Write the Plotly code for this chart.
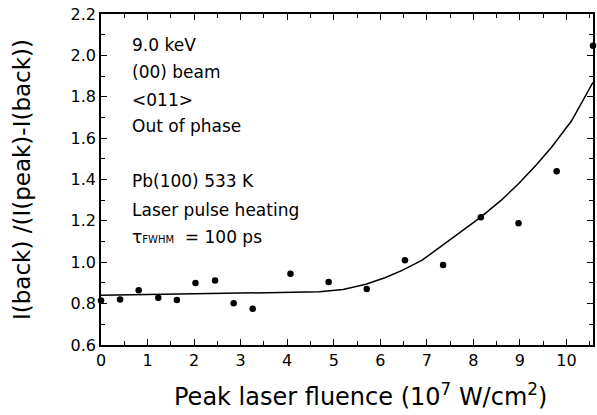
import plotly.graph_objects as go

# Data
fluence = [0.0, 0.41, 0.81, 1.23, 1.63, 2.03, 2.45, 2.85, 3.26, 4.07, 4.89,
           5.71, 6.53, 7.35, 8.16, 8.97, 9.79, 10.57]
ratio = [0.815, 0.82, 0.865, 0.828, 0.817, 0.90, 0.912, 0.802, 0.775, 0.944, 0.905,
         0.871, 1.01, 0.987, 1.218, 1.189, 1.44, 2.047]

fit_x = [0, 1, 2, 3, 4, 4.69, 5.2, 5.69, 6.1, 6.47, 6.9, 7.54, 8.16, 8.6, 8.97,
         9.35, 9.68, 10.11, 10.57]
fit_y = [0.840, 0.843, 0.847, 0.850, 0.853, 0.857, 0.868, 0.894, 0.925, 0.961, 1.010,
         1.114, 1.218, 1.300, 1.379, 1.470, 1.556, 1.684, 1.870]

notes = ["9.0 keV", "(00) beam", "<011>", "Out of phase",
         "Pb(100) 533 K", "Laser pulse heating",
         "τ<span style='font-size:10px'>FWHM</span>  = 100 ps"]
note_y = [2.05, 1.922, 1.785, 1.66, 1.392, 1.255, 1.12]

x_title = "Peak laser fluence (10<sup>7</sup> W/cm<sup>2</sup>)"
y_title = "I(back) /(I(peak)-I(back))"

FONT = "DejaVu Sans, Liberation Sans, sans-serif"

fig = go.Figure()
fig.add_trace(go.Scatter(x=fit_x, y=fit_y, mode="lines",
                         line=dict(color="black", width=1.5), hoverinfo="skip"))
fig.add_trace(go.Scatter(x=fluence, y=ratio, mode="markers",
                         marker=dict(color="black", size=6.5), cliponaxis=False))

for t, y in zip(notes, note_y):
    fig.add_annotation(x=0.62, y=y, xref="x", yref="y", text=t, showarrow=False,
                       xanchor="left", yanchor="middle",
                       font=dict(family=FONT, size=17, color="black"))

# x-axis title placed as annotation to match the reference's offset
fig.add_annotation(x=0.528, y=-0.151, xref="paper", yref="paper", text=x_title,
                   showarrow=False, xanchor="center", yanchor="middle",
                   font=dict(family=FONT, size=24, color="black"))

axis_common = dict(showline=True, linecolor="black", linewidth=1.5, mirror="allticks",
                   ticks="inside", ticklen=6, tickwidth=1, tickcolor="black",
                   showgrid=False, zeroline=False,
                   tickfont=dict(family=FONT, size=16, color="black"))

fig.update_xaxes(range=[0, 10.57], tick0=0, dtick=1,
                 minor=dict(ticks="inside", dtick=0.5, ticklen=4, tickcolor="black"),
                 **axis_common)
fig.update_yaxes(range=[0.6, 2.2], tick0=0.6, dtick=0.2, tickformat=".1f",
                 minor=dict(ticks="inside", dtick=0.1, ticklen=4, tickcolor="black"),
                 title=dict(text=y_title,
                            font=dict(family=FONT, size=23, color="black"), standoff=34),
                 **axis_common)

fig.update_layout(width=597, height=415, showlegend=False,
                  margin=dict(l=101, r=2, t=14, b=70),
                  plot_bgcolor="white", paper_bgcolor="white")

fig.write_html("out.html")
